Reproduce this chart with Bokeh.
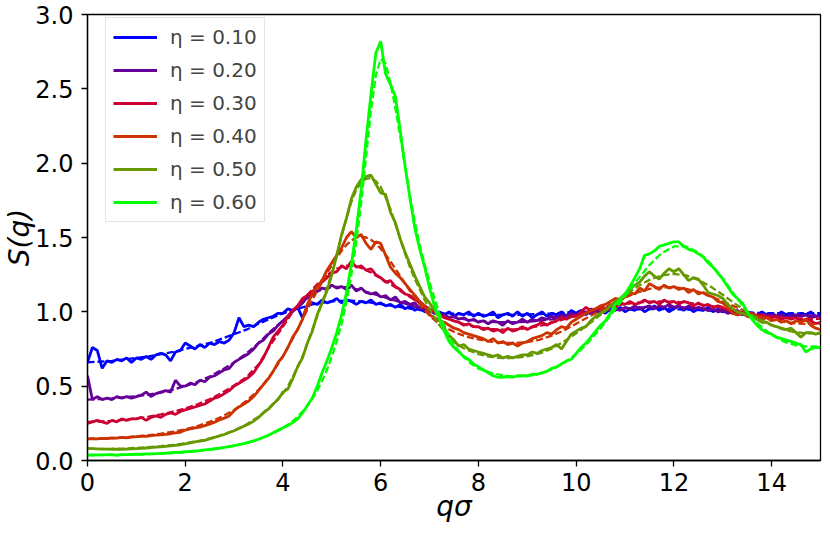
import numpy as np
from bokeh.plotting import figure
from bokeh.models import Legend, LegendItem, FixedTicker, NumeralTickFormatter, Range1d
from bokeh.embed import file_html
from bokeh.resources import INLINE

labels = ["η = 0.10", "η = 0.20", "η = 0.30", "η = 0.40", "η = 0.50", "η = 0.60"]
colors = ["#0000ff", "#660099", "#cc0033", "#cc3300", "#669900", "#00ff00"]

# simulation grid (q sigma) and theory grid
q_sim = np.round(np.arange(151) * 0.1, 2)
q_theory = np.round(np.concatenate([np.arange(16) * 0.25, 4.0 + np.arange(40) * 0.1, 8.0 + np.arange(29) * 0.25]), 3)

sim_010 = [0.66, 0.76, 0.74, 0.62, 0.67, 0.66, 0.68, 0.67, 0.69, 0.66,
           0.69, 0.68, 0.70, 0.68, 0.71, 0.72, 0.71, 0.67, 0.73, 0.74,
           0.79, 0.77, 0.75, 0.78, 0.76, 0.79, 0.78, 0.80, 0.79, 0.81,
           0.86, 0.96, 0.90, 0.91, 0.90, 0.93, 0.95, 0.96, 0.97, 0.99,
           0.99, 1.02, 1.01, 1.03, 0.96, 1.04, 1.06, 1.05, 1.08, 1.06,
           1.07, 1.09, 1.06, 1.08, 1.07, 1.05, 1.07, 1.06, 1.08, 1.05,
           1.06, 1.04, 1.05, 1.03, 1.05, 1.02, 1.04, 1.01, 1.03, 1.00,
           1.01, 0.99, 1.00, 0.98, 1.00, 0.97, 0.99, 0.98, 1.00, 0.97,
           0.99, 0.97, 0.98, 1.00, 0.96, 0.98, 0.99, 0.97, 1.00, 0.97,
           0.99, 0.96, 0.98, 1.00, 0.97, 0.99, 0.98, 1.00, 0.97, 1.01,
           0.99, 1.01, 0.98, 1.02, 1.00, 1.01, 0.99, 1.02, 1.01, 1.03,
           1.00, 1.02, 1.01, 1.03, 1.00, 1.02, 1.04, 1.01, 1.03, 1.00,
           1.02, 1.04, 1.01, 1.03, 1.00, 1.02, 1.01, 1.03, 1.00, 1.02,
           1.00, 1.01, 0.99, 1.01, 0.98, 1.00, 0.99, 0.97, 1.00, 0.98,
           0.99, 0.97, 1.00, 0.98, 0.99, 0.97, 0.99, 0.98, 1.00, 0.97,
           0.98]
sim_020 = [0.57, 0.41, 0.43, 0.41, 0.42, 0.41, 0.43, 0.42, 0.43, 0.42,
           0.43, 0.44, 0.46, 0.43, 0.45, 0.46, 0.47, 0.46, 0.54, 0.50,
           0.50, 0.52, 0.51, 0.54, 0.53, 0.56, 0.57, 0.59, 0.61, 0.62,
           0.66, 0.68, 0.70, 0.72, 0.75, 0.79, 0.81, 0.85, 0.87, 0.91,
           0.94, 0.97, 1.01, 1.03, 1.06, 1.10, 1.11, 1.14, 1.16, 1.15,
           1.18, 1.16, 1.17, 1.15, 1.18, 1.14, 1.16, 1.13, 1.12, 1.13,
           1.10, 1.11, 1.08, 1.10, 1.06, 1.07, 1.05, 1.06, 1.02, 1.03,
           1.00, 1.00, 0.98, 0.98, 0.96, 0.97, 0.95, 0.96, 0.94, 0.95,
           0.93, 0.94, 0.92, 0.94, 0.93, 0.91, 0.94, 0.92, 0.93, 0.95,
           0.93, 0.95, 0.94, 0.96, 0.95, 0.97, 0.96, 0.98, 0.97, 0.99,
           0.98, 0.99, 1.00, 0.99, 1.01, 1.00, 1.02, 1.01, 1.02, 1.01,
           1.03, 1.02, 1.04, 1.02, 1.03, 1.04, 1.02, 1.04, 1.03, 1.05,
           1.03, 1.04, 1.02, 1.04, 1.02, 1.03, 1.02, 1.01, 1.02, 1.00,
           1.01, 0.99, 1.00, 0.98, 0.99, 0.98, 0.99, 0.97, 0.98, 0.97,
           0.98, 0.97, 0.98, 0.96, 0.97, 0.98, 0.97, 0.98, 0.96, 0.97,
           0.97]
sim_030 = [0.25, 0.26, 0.27, 0.26, 0.25, 0.27, 0.26, 0.28, 0.27, 0.28,
           0.28, 0.29, 0.27, 0.29, 0.30, 0.29, 0.31, 0.32, 0.31, 0.33,
           0.34, 0.35, 0.36, 0.37, 0.38, 0.40, 0.42, 0.43, 0.45, 0.47,
           0.50, 0.52, 0.54, 0.56, 0.59, 0.64, 0.69, 0.76, 0.83, 0.87,
           0.91, 0.97, 1.01, 1.04, 1.09, 1.11, 1.13, 1.18, 1.20, 1.23,
           1.26, 1.27, 1.31, 1.29, 1.34, 1.30, 1.31, 1.28, 1.29, 1.25,
           1.23, 1.20, 1.21, 1.17, 1.15, 1.12, 1.11, 1.08, 1.07, 1.04,
           1.02, 1.00, 0.98, 0.96, 0.95, 0.94, 0.93, 0.91, 0.92, 0.90,
           0.90, 0.88, 0.89, 0.87, 0.88, 0.86, 0.89, 0.87, 0.88, 0.90,
           0.88, 0.90, 0.91, 0.93, 0.91, 0.93, 0.94, 0.96, 0.95, 0.97,
           0.97, 1.00, 1.03, 1.01, 1.02, 1.04, 1.02, 1.05, 1.03, 1.06,
           1.05, 1.07, 1.05, 1.06, 1.08, 1.06, 1.07, 1.05, 1.08, 1.06,
           1.07, 1.05, 1.07, 1.06, 1.04, 1.06, 1.04, 1.05, 1.03, 1.04,
           1.03, 1.01, 1.02, 1.00, 0.99, 1.00, 0.98, 0.97, 0.98, 0.97,
           0.96, 0.97, 0.95, 0.96, 0.95, 0.96, 0.94, 0.95, 0.94, 0.92,
           0.93]
sim_040 = [0.145, 0.147, 0.145, 0.149, 0.148, 0.152, 0.150, 0.155, 0.153, 0.158,
           0.160, 0.163, 0.162, 0.168, 0.170, 0.173, 0.176, 0.180, 0.186, 0.190,
           0.205, 0.212, 0.220, 0.225, 0.235, 0.245, 0.258, 0.272, 0.285, 0.300,
           0.335, 0.36, 0.38, 0.40, 0.43, 0.47, 0.51, 0.55, 0.60, 0.66,
           0.70, 0.76, 0.83, 0.88, 0.95, 1.05, 1.12, 1.17, 1.21, 1.28,
           1.33, 1.38, 1.43, 1.50, 1.54, 1.50, 1.52, 1.46, 1.42, 1.47,
           1.46, 1.38, 1.30, 1.26, 1.23, 1.19, 1.15, 1.11, 1.07, 1.04,
           0.98, 0.96, 0.94, 0.93, 0.91, 0.89, 0.88, 0.86, 0.85, 0.84,
           0.83, 0.82, 0.80, 0.82, 0.79, 0.80, 0.78, 0.79, 0.77, 0.79,
           0.80, 0.82, 0.83, 0.84, 0.86, 0.85, 0.88, 0.90, 0.89, 0.93,
           0.95, 0.97, 0.99, 1.01, 1.02, 1.04, 1.05, 1.07, 1.09, 1.08,
           1.10, 1.13, 1.12, 1.16, 1.14, 1.19, 1.17, 1.15, 1.18, 1.16,
           1.17, 1.15, 1.16, 1.13, 1.15, 1.12, 1.13, 1.11, 1.10, 1.07,
           1.06, 1.03, 0.99, 0.98, 0.99, 0.97, 0.96, 0.97, 0.95, 0.96,
           0.94, 0.95, 0.93, 0.94, 0.92, 0.94, 0.93, 0.95, 0.91, 0.89,
           0.88]
sim_050 = [0.082, 0.080, 0.078, 0.077, 0.076, 0.075, 0.076, 0.075, 0.077, 0.078,
           0.080, 0.082, 0.084, 0.087, 0.090, 0.092, 0.095, 0.098, 0.102, 0.106,
           0.112, 0.118, 0.125, 0.130, 0.136, 0.145, 0.155, 0.165, 0.175, 0.188,
           0.200, 0.215, 0.230, 0.245, 0.265, 0.290, 0.320, 0.345, 0.380, 0.410,
           0.46, 0.48, 0.55, 0.63, 0.69, 0.79, 0.87, 0.98, 1.06, 1.14,
           1.25, 1.38, 1.52, 1.63, 1.76, 1.84, 1.89, 1.91, 1.92, 1.86,
           1.80, 1.79, 1.67, 1.60, 1.49, 1.40, 1.32, 1.24, 1.17, 1.10,
           1.06, 1.01, 0.96, 0.89, 0.84, 0.81, 0.77, 0.78, 0.75, 0.74,
           0.73, 0.72, 0.71, 0.70, 0.71, 0.69, 0.70, 0.69, 0.70, 0.71,
           0.71, 0.73, 0.72, 0.74, 0.75, 0.76, 0.78, 0.75, 0.80, 0.85,
           0.87, 0.89, 0.90, 0.94, 0.97, 0.99, 1.01, 1.04, 1.07, 1.09,
           1.12, 1.15, 1.18, 1.20, 1.24, 1.27, 1.24, 1.22, 1.26, 1.29,
           1.27, 1.29, 1.25, 1.21, 1.23, 1.22, 1.18, 1.13, 1.12, 1.11,
           1.09, 1.05, 1.02, 1.00, 0.99, 0.98, 0.96, 0.95, 0.93, 0.93,
           0.91, 0.90, 0.89, 0.88, 0.89, 0.86, 0.83, 0.86, 0.86, 0.85,
           0.86]
sim_060 = [0.037, 0.037, 0.038, 0.038, 0.039, 0.039, 0.035, 0.040, 0.040, 0.041,
           0.042, 0.043, 0.044, 0.045, 0.046, 0.048, 0.050, 0.052, 0.054, 0.056,
           0.059, 0.061, 0.064, 0.067, 0.071, 0.075, 0.079, 0.083, 0.088, 0.094,
           0.100, 0.106, 0.113, 0.122, 0.132, 0.143, 0.156, 0.170, 0.186, 0.203,
           0.22, 0.235, 0.255, 0.28, 0.32, 0.37, 0.42, 0.50, 0.59, 0.67,
           0.76, 0.86, 0.98, 1.13, 1.32, 1.55, 1.82, 2.16, 2.46, 2.74,
           2.82, 2.60, 2.53, 2.45, 2.22, 1.98, 1.76, 1.56, 1.42, 1.30,
           1.16, 1.04, 0.95, 0.87, 0.80, 0.76, 0.73, 0.70, 0.68, 0.65,
           0.63, 0.61, 0.59, 0.57, 0.56, 0.56, 0.565, 0.56, 0.57, 0.57,
           0.57, 0.58, 0.58, 0.59, 0.60, 0.62, 0.63, 0.65, 0.67, 0.68,
           0.72, 0.76, 0.79, 0.83, 0.87, 0.91, 0.94, 0.99, 1.05, 1.08,
           1.12, 1.17, 1.23, 1.29, 1.38, 1.39, 1.41, 1.44, 1.45, 1.46,
           1.47, 1.47, 1.44, 1.42, 1.41, 1.39, 1.37, 1.33, 1.30, 1.26,
           1.22, 1.17, 1.12, 1.09, 1.06, 1.00, 0.95, 0.91, 0.88, 0.86,
           0.85, 0.83, 0.82, 0.81, 0.80, 0.79, 0.78, 0.73, 0.75, 0.76,
           0.76]

th_010 = [0.66, 0.665, 0.67, 0.68, 0.69, 0.70, 0.715, 0.73, 0.75, 0.77, 0.79, 0.82, 0.85, 0.88, 0.92, 0.955,
          0.99, 1.0, 1.01, 1.02, 1.03, 1.04, 1.05, 1.055, 1.06, 1.065,
          1.07, 1.072, 1.074, 1.075, 1.075, 1.073, 1.07, 1.066, 1.062, 1.057,
          1.052, 1.047, 1.042, 1.037, 1.032, 1.027, 1.022, 1.017, 1.012, 1.007,
          1.003, 0.999, 0.995, 0.992, 0.989, 0.987, 0.985, 0.983, 0.982, 0.981,
          0.98, 0.979, 0.979, 0.98, 0.982, 0.985, 0.989, 0.994, 0.999, 1.004, 1.008, 1.012, 1.015, 1.017,
          1.018, 1.018, 1.017, 1.015, 1.012, 1.008, 1.004, 1.0, 0.996, 0.993, 0.991, 0.99, 0.99, 0.99, 0.991]
th_020 = [0.41, 0.413, 0.418, 0.425, 0.433, 0.443, 0.457, 0.477, 0.50, 0.53, 0.565, 0.61, 0.66, 0.72, 0.79, 0.87,
          0.94, 0.97, 1.0, 1.03, 1.06, 1.09, 1.115, 1.135, 1.15, 1.16,
          1.165, 1.168, 1.168, 1.165, 1.16, 1.153, 1.145, 1.135, 1.125, 1.115,
          1.105, 1.095, 1.085, 1.075, 1.065, 1.055, 1.045, 1.035, 1.025, 1.015,
          1.005, 0.995, 0.985, 0.977, 0.969, 0.962, 0.956, 0.951, 0.946, 0.942,
          0.939, 0.933, 0.93, 0.93, 0.933, 0.94, 0.95, 0.962, 0.975, 0.988, 1.0, 1.01, 1.02, 1.027,
          1.031, 1.033, 1.033, 1.03, 1.025, 1.018, 1.01, 1.0, 0.992, 0.985, 0.98, 0.976, 0.974, 0.974, 0.975]
th_030 = [0.26, 0.262, 0.267, 0.274, 0.283, 0.295, 0.31, 0.328, 0.35, 0.378, 0.412, 0.455, 0.505, 0.56, 0.645, 0.78,
          0.90, 0.95, 1.0, 1.04, 1.08, 1.115, 1.15, 1.185, 1.215, 1.245,
          1.27, 1.29, 1.30, 1.31, 1.31, 1.305, 1.295, 1.28, 1.265, 1.245,
          1.225, 1.205, 1.185, 1.165, 1.14, 1.12, 1.10, 1.08, 1.06, 1.04,
          1.02, 1.0, 0.98, 0.965, 0.95, 0.938, 0.927, 0.917, 0.908, 0.90,
          0.895, 0.885, 0.88, 0.882, 0.89, 0.905, 0.925, 0.95, 0.975, 1.0, 1.02, 1.038, 1.052, 1.062,
          1.068, 1.07, 1.068, 1.062, 1.052, 1.04, 1.025, 1.008, 0.992, 0.978, 0.967, 0.96, 0.955, 0.953, 0.953]
th_040 = [0.145, 0.147, 0.150, 0.155, 0.161, 0.17, 0.18, 0.194, 0.21, 0.232, 0.26, 0.295, 0.34, 0.40, 0.475, 0.575,
          0.70, 0.76, 0.82, 0.885, 0.95, 1.015, 1.08, 1.14, 1.20, 1.26,
          1.315, 1.365, 1.41, 1.45, 1.48, 1.50, 1.505, 1.50, 1.485, 1.46,
          1.425, 1.385, 1.34, 1.29, 1.24, 1.19, 1.14, 1.095, 1.05, 1.01,
          0.975, 0.945, 0.92, 0.90, 0.882, 0.866, 0.852, 0.84, 0.83, 0.822,
          0.815, 0.80, 0.792, 0.79, 0.797, 0.812, 0.84, 0.875, 0.92, 0.965, 1.01, 1.055, 1.095, 1.13,
          1.155, 1.165, 1.165, 1.155, 1.135, 1.105, 1.07, 1.035, 1.0, 0.97, 0.948, 0.932, 0.922, 0.918, 0.92]
th_050 = [0.078, 0.078, 0.079, 0.081, 0.085, 0.09, 0.097, 0.105, 0.116, 0.13, 0.148, 0.172, 0.202, 0.242, 0.295, 0.365,
          0.45, 0.50, 0.56, 0.63, 0.70, 0.79, 0.88, 0.97, 1.06, 1.16,
          1.26, 1.38, 1.51, 1.63, 1.74, 1.82, 1.87, 1.895, 1.90, 1.88,
          1.84, 1.77, 1.69, 1.59, 1.49, 1.39, 1.30, 1.22, 1.15, 1.08,
          1.02, 0.96, 0.91, 0.87, 0.83, 0.80, 0.775, 0.755, 0.74, 0.728,
          0.715, 0.697, 0.688, 0.69, 0.70, 0.72, 0.752, 0.80, 0.855, 0.915, 0.98, 1.045, 1.11, 1.17,
          1.215, 1.245, 1.255, 1.245, 1.215, 1.17, 1.115, 1.055, 1.0, 0.95, 0.91, 0.88, 0.862, 0.855, 0.855]
th_060 = [0.036, 0.036, 0.037, 0.038, 0.04, 0.043, 0.046, 0.05, 0.056, 0.063, 0.072, 0.084, 0.099, 0.118, 0.143, 0.175,
          0.218, 0.24, 0.265, 0.295, 0.33, 0.37, 0.415, 0.47, 0.535, 0.61,
          0.70, 0.80, 0.92, 1.07, 1.25, 1.47, 1.73, 2.04, 2.35, 2.59,
          2.70, 2.67, 2.54, 2.37, 2.18, 1.97, 1.78, 1.60, 1.45, 1.32,
          1.20, 1.09, 0.99, 0.905, 0.835, 0.78, 0.735, 0.695, 0.665, 0.64,
          0.618, 0.59, 0.572, 0.565, 0.568, 0.583, 0.612, 0.655, 0.715, 0.795, 0.89, 0.995, 1.105, 1.215,
          1.315, 1.395, 1.44, 1.44, 1.40, 1.325, 1.225, 1.11, 1.0, 0.91, 0.845, 0.80, 0.775, 0.765, 0.768]

x_ticks = [0, 2, 4, 6, 8, 10, 12, 14]
y_ticks = [0.0, 0.5, 1.0, 1.5, 2.0, 2.5, 3.0]

sims = [sim_010, sim_020, sim_030, sim_040, sim_050, sim_060]
ths = [th_010, th_020, th_030, th_040, th_050, th_060]

FONT = "DejaVu Sans"

p = figure(width=822, height=531, x_range=Range1d(0, 15), y_range=Range1d(0, 3),
           output_backend="svg", toolbar_location=None,
           min_border_left=86, min_border_right=2, min_border_top=14, min_border_bottom=71)
p.xgrid.visible = False
p.ygrid.visible = False
p.outline_line_color = "black"
p.outline_line_width = 1.3
p.background_fill_color = "white"
p.border_fill_color = "white"

for ax in (p.xaxis[0], p.yaxis[0]):
    ax.axis_line_width = 1.3
    ax.major_tick_line_width = 1.3
    ax.major_tick_out = 6
    ax.major_tick_in = 0
    ax.minor_tick_out = 0
    ax.minor_tick_in = 0
    ax.major_label_text_font = FONT
    ax.major_label_text_font_size = "24px"
    ax.major_label_text_color = "black"
    ax.axis_label_text_font = FONT
    ax.axis_label_text_font_size = "28px"
    ax.axis_label_text_font_style = "italic"
    ax.axis_label_text_color = "black"

p.xaxis.ticker = FixedTicker(ticks=x_ticks)
p.yaxis.ticker = FixedTicker(ticks=y_ticks)
p.yaxis.formatter = NumeralTickFormatter(format="0.0")
p.xaxis.axis_label = "qσ"
p.yaxis.axis_label = "S(q)"
p.xaxis.major_label_standoff = 6
p.yaxis.major_label_standoff = 8
p.xaxis.axis_label_standoff = -4
p.yaxis.axis_label_standoff = -4

items = []
for lab, col, s, t in zip(labels, colors, sims, ths):
    r = p.line(q_sim, s, line_color=col, line_width=2.8)
    p.line(q_theory, t, line_color=col, line_width=2.3, line_dash="7 3")
    items.append(LegendItem(label=lab, renderers=[r]))

legend = Legend(items=items, location=(18, 238), margin=0)
legend.label_text_font = FONT
legend.label_text_font_size = "20px"
legend.glyph_width = 44
legend.glyph_height = 24
legend.label_height = 24
legend.spacing = 9
legend.padding = 7
legend.label_standoff = 13
legend.border_line_color = "#cccccc"
legend.border_line_width = 1
legend.background_fill_alpha = 0.8
p.add_layout(legend)

open("out.html", "w").write(file_html(p, INLINE))
